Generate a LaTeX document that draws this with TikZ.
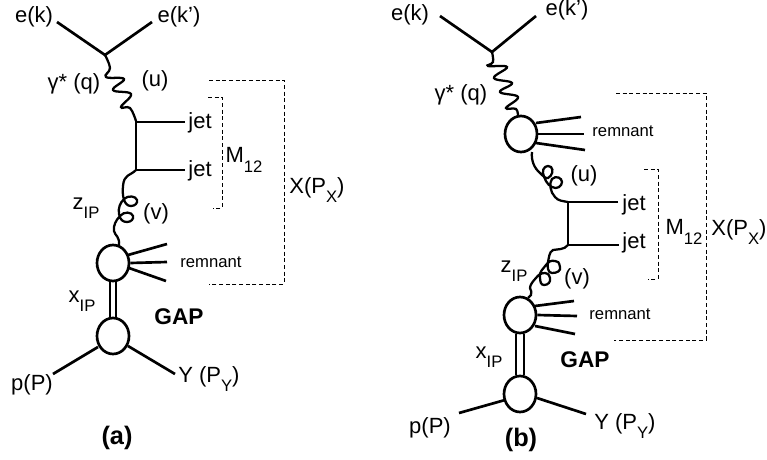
\documentclass[tikz,border=0pt]{standalone}
\usepackage{fontspec}
\setmainfont{Liberation Sans}
\usetikzlibrary{shapes.geometric}
\newcommand{\lowsub}[1]{\raisebox{-0.42em}{\fontsize{12.5pt}{13pt}\selectfont #1}}
\tikzset{
  lab/.style={inner sep=0pt,font=\fontsize{16.5pt}{18pt}\selectfont},
  labsmall/.style={inner sep=0pt,font=\fontsize{12.5pt}{14pt}\selectfont},
  labbold/.style={inner sep=0pt,font=\fontsize{17pt}{18pt}\selectfont\bfseries},
  capt/.style={inner sep=0pt,font=\fontsize{19pt}{20pt}\selectfont\bfseries},
  blob/.style={draw,line width=2pt,ellipse,minimum width=24pt,minimum height=27pt,inner sep=0pt},
  fermion/.style={line width=2pt},
  boson/.style={line width=1.7pt},
  bracket/.style={line width=0.6pt,dash pattern=on 3pt off 2pt},
}
\begin{document}
\begin{tikzpicture}[x=0.75pt,y=-0.75pt]
\useasboundingbox (0,0) rectangle (767,460);
% ---------- panel (a)
\node[lab] (aek) at (34,17) {e(k)};
\node[lab] (aekp) at (179,17) {e(k')};
\coordinate (aeka) at (57,22);
\coordinate (aekb) at (152,22);
\coordinate (av) at (105,55);
\draw[fermion] (aeka) -- (av) -- (aekb);
\coordinate (aj1) at (136,122);
\coordinate (aj2) at (136,170);
\coordinate (aj1e) at (185,122);
\coordinate (aj2e) at (185,170);
\draw[boson] plot[smooth,tension=0.7] coordinates {(105,55) (110,68) (106,77) (124,79) (113,90) (131,94) (121,107) (130,108) (136,121)};
\draw[fermion] (aj1e) -- (aj1) -- (aj2) -- (aj2e);
\node[lab] (ajet1) at (200,123) {jet};
\node[lab] (ajet2) at (200,171) {jet};
\node[blob] (aoa) at (113,263) {};
\node[blob] (aob) at (113,336) {};
\draw[boson] (aj2) .. controls (130,176) and (124,174) .. (123,186) .. controls (122,196) and (124,206) .. (131,206) .. controls (135,206) and (138,203) .. (137,200) .. controls (136,196) and (128,195) .. (124,199) .. controls (120,203) and (118,208) .. (119,214) .. controls (120,220) and (123,222) .. (127,222) .. controls (131,222) and (134,219) .. (133,216) .. controls (132,212) and (124,211) .. (120,216) .. controls (116,220) and (113,226) .. (114,231) .. controls (115,236) and (120,236) .. (119,246);
\draw[fermion] ([xshift=-2.25pt]aoa.south) -- ([xshift=-2.25pt]aob.north);
\draw[fermion] ([xshift=2.25pt]aoa.south) -- ([xshift=2.25pt]aob.north);
\coordinate (ar1) at (167,244);
\coordinate (ar2) at (167,262);
\coordinate (ar3) at (166,281);
\draw[fermion] (128,255) -- (ar1);
\draw[fermion] (aoa.east) -- (ar2);
\draw[fermion] (129,268) -- (ar3);
\node[labsmall] (arem) at (211,262) {remnant};
\coordinate (apl) at (53,374);
\coordinate (ayl) at (175,374);
\draw[fermion] (98,347) -- (apl);
\draw[fermion] (128,346) -- (ayl);
\node[lab] (app) at (32,385) {p(P)};
\node[lab,anchor=west] (ay) at (178,379) {Y (P\lowsub{Y})};
\node[lab] (agam) at (74,84) {γ* (q)};
\node[lab] (au) at (155,81) {(u)};
\node[lab] (av2) at (156,214) {(v)};
\node[lab] (az) at (86,208) {z\lowsub{IP}};
\node[lab] (ax) at (82,301) {x\lowsub{IP}};
\node[labbold] (agap) at (179,317) {GAP};
\node[capt] (acap) at (117,438) {(a)};
\node[lab] (am) at (244,160) {M\lowsub{12}};
\node[lab] (apx) at (317,190) {X(P\lowsub{X})};
\coordinate (amA) at (208,97);
\coordinate (amB) at (222,97);
\coordinate (amC) at (222,208);
\coordinate (amD) at (213,208);
\draw[bracket] (amA) -- (amB) -- (amC) -- (amD);
\coordinate (axA) at (209,80);
\coordinate (axB) at (284,80);
\coordinate (axC) at (284,284);
\coordinate (axD) at (209,284);
\draw[bracket] (axA) -- (axB) -- (axC) -- (axD);
% ---------- panel (b)
\node[lab] (bek) at (410,15) {e(k)};
\node[lab] (bekp) at (567,10) {e(k')};
\coordinate (beka) at (440,16);
\coordinate (bekb) at (536,16);
\coordinate (bv) at (492,52);
\draw[fermion] (beka) -- (bv) -- (bekb);
\node[blob] (boa) at (521,134) {};
\draw[boson] plot[smooth,tension=0.7] coordinates {(492,52) (493,62) (488,66) (507,67) (494,78) (512,83) (500,92) (518,97) (506,108) (516,109) (518,117)};
\coordinate (brt1) at (581,117);
\coordinate (brt2) at (584,134);
\coordinate (brt3) at (585,150);
\draw[fermion] (536,123) -- (brt1);
\draw[fermion] (boa.east) -- (brt2);
\draw[fermion] (536,143) -- (brt3);
\node[labsmall] (brem1) at (623,131) {remnant};
\coordinate (bj1) at (568,202);
\coordinate (bj2) at (568,245);
\coordinate (bj1e) at (618,202);
\coordinate (bj2e) at (619,245);
\draw[boson] (532,152) .. controls (531,160) and (534,168) .. (540,173) .. controls (543,176) and (546,179) .. (548,178) .. controls (552,176) and (554,170) .. (551,167) .. controls (547,164) and (542,168) .. (543,173) .. controls (544,178) and (547,185) .. (552,187) .. controls (557,190) and (562,186) .. (562,182) .. controls (562,178) and (556,175) .. (552,179) .. controls (549,183) and (550,192) .. (555,197) .. controls (558,201) and (563,201) .. (bj1);
\draw[fermion] (bj1e) -- (bj1) -- (bj2) -- (bj2e);
\node[lab] (bjet1) at (634,205) {jet};
\node[lab] (bjet2) at (634,243) {jet};
\node[blob] (bob) at (520,315) {};
\node[blob] (boc) at (520,394) {};
\draw[boson] (bj2) .. controls (564,250) and (558,249) .. (553,250) .. controls (549,252) and (549,258) .. (548,262) .. controls (547,267) and (548,273) .. (552,273) .. controls (557,273) and (561,271) .. (560,267) .. controls (559,262) and (558,261) .. (555,261) .. controls (551,260) and (548,262) .. (546,265) .. controls (543,269) and (539,272) .. (540,277) .. controls (540,282) and (541,285) .. (544,285) .. controls (548,285) and (551,282) .. (550,278) .. controls (549,274) and (547,273) .. (545,273) .. controls (541,273) and (538,275) .. (536,278) .. controls (533,281) and (530,285) .. (530,288) .. controls (530,291) and (533,292) .. (531,295) .. controls (530,297) and (529,297) .. (528,298);
\draw[fermion] ([xshift=-3pt]bob.south) -- ([xshift=-3pt]boc.north);
\draw[fermion] ([xshift=3pt]bob.south) -- ([xshift=3pt]boc.north);
\coordinate (brb1) at (574,301);
\coordinate (brb2) at (577,316);
\coordinate (brb3) at (575,334);
\draw[fermion] (535,306) -- (brb1);
\draw[fermion] (bob.east) -- (brb2);
\draw[fermion] (535,326) -- (brb3);
\node[labsmall] (brem2) at (620,314) {remnant};
\coordinate (bpl) at (459,413);
\coordinate (byl) at (586,414);
\draw[fermion] (505,400) -- (bpl);
\draw[fermion] (537,398) -- (byl);
\node[lab] (bpp) at (430,428) {p(P)};
\node[lab,anchor=west] (by) at (594,426) {Y (P\lowsub{Y})};
\node[lab] (bgam) at (461,95) {γ* (q)};
\node[lab] (bu) at (584,176) {(u)};
\node[lab] (bv2) at (577,279) {(v)};
\node[lab] (bz) at (514,271) {z\lowsub{IP}};
\node[lab] (bx) at (489,357) {x\lowsub{IP}};
\node[labbold] (bgap) at (585,360) {GAP};
\node[capt] (bcap) at (521,440) {(b)};
\node[lab] (bm) at (684,232) {M\lowsub{12}};
\node[lab] (bpx) at (739,232) {X(P\lowsub{X})};
\coordinate (bmA) at (644,169);
\coordinate (bmB) at (658,169);
\coordinate (bmC) at (658,279);
\coordinate (bmD) at (648,279);
\draw[bracket] (bmA) -- (bmB) -- (bmC) -- (bmD);
\coordinate (bxA) at (616,93);
\coordinate (bxB) at (706,93);
\coordinate (bxC) at (706,340);
\coordinate (bxD) at (614,340);
\draw[bracket] (bxA) -- (bxB) -- (bxC) -- (bxD);
\end{tikzpicture}
\end{document}
